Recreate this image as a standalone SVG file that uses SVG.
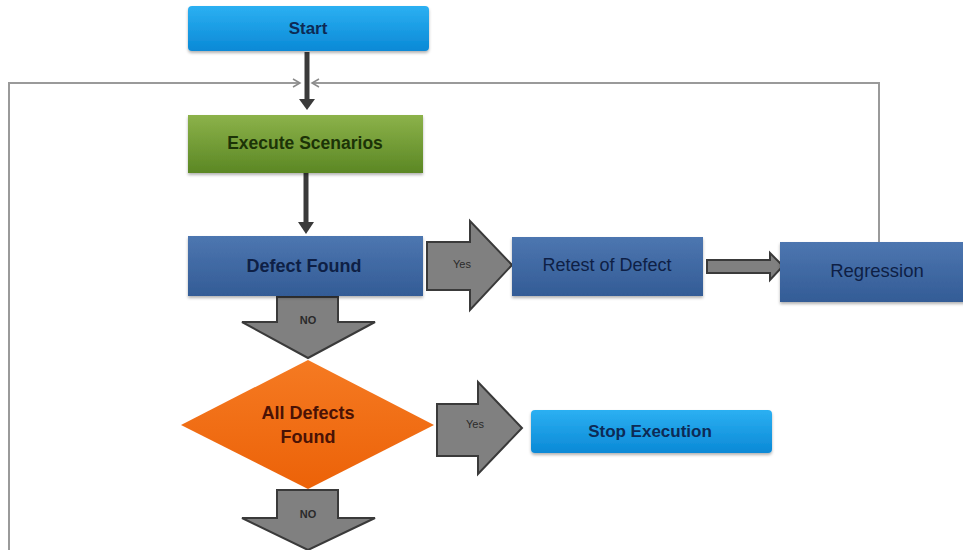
<svg xmlns="http://www.w3.org/2000/svg" width="963" height="550" viewBox="0 0 963 550">
<defs>
<linearGradient id="gBlue" x1="0" y1="0" x2="0" y2="1"><stop offset="0" stop-color="#2cb0f2"/><stop offset="1" stop-color="#0a89d6"/></linearGradient>
<linearGradient id="gGreen" x1="0" y1="0" x2="0" y2="1"><stop offset="0" stop-color="#8cb24a"/><stop offset="1" stop-color="#5b8724"/></linearGradient>
<linearGradient id="gSteel" x1="0" y1="0" x2="0" y2="1"><stop offset="0" stop-color="#4d76b0"/><stop offset="1" stop-color="#335c96"/></linearGradient>
<linearGradient id="gOrange" x1="0" y1="0" x2="0" y2="1"><stop offset="0" stop-color="#f57a22"/><stop offset="1" stop-color="#ec6208"/></linearGradient>
<filter id="sh" x="-10%" y="-10%" width="120%" height="140%"><feDropShadow dx="0" dy="2" stdDeviation="1.5" flood-color="#000" flood-opacity="0.3"/></filter>
</defs>
<style>
.t{font-family:"Liberation Sans",Arial,sans-serif;text-anchor:middle;dominant-baseline:central}
.b{font-weight:bold}
.blk{fill:#808080;stroke:#3a3a3a;stroke-width:2;stroke-linejoin:miter}
.lbl{font-family:"Liberation Sans",Arial,sans-serif;font-size:11px;fill:#2a2a2a;text-anchor:middle;dominant-baseline:central}
.fb{fill:none;stroke:#9a9a9a;stroke-width:2}
.dark{stroke:#3a3a3a;stroke-width:5;fill:none}
</style>
<rect width="963" height="550" fill="#fff"/>
<g id="connectors">
<polyline class="fb" points="9,550 9,83 299,83"/>
<polyline class="fb" points="879,242 879,83 313,83"/>
<path d="M293,79 L300,83 L293,87" fill="none" stroke="#8a8a8a" stroke-width="1.5"/>
<path d="M319,79 L312,83 L319,87" fill="none" stroke="#8a8a8a" stroke-width="1.5"/>
<line class="dark" x1="307" y1="52" x2="307" y2="100"/>
<polygon points="299,99 315,99 307,110" fill="#3a3a3a"/>
<line class="dark" x1="306" y1="173" x2="306" y2="223"/>
<polygon points="298,222 314,222 306,234" fill="#3a3a3a"/>
<g id="yes1"><polygon class="blk" points="427,242 470,242 470,221 512,265 470,310 470,290 427,290"/><text class="lbl" x="462" y="264">Yes</text></g>
<g id="no1"><polygon class="blk" points="277,297 338,297 338,322 375,322 308,358 242,322 277,322"/><text class="lbl b" x="308" y="320">NO</text></g>
<g id="yes2"><polygon class="blk" points="437,404 478,404 478,382 522,428 478,474 478,456 437,456"/><text class="lbl" x="475" y="424">Yes</text></g>
<g id="no2"><polygon class="blk" points="277,490 338,490 338,518 375,518 308,550 242,518 277,518"/><text class="lbl b" x="308" y="514">NO</text></g>
<polygon class="blk" points="707,260 770,260 770,253 783,266 770,280 770,273 707,273"/>
</g>
<g id="start"><rect x="188" y="6" width="241" height="45" rx="4" fill="url(#gBlue)" filter="url(#sh)"/><text class="t b" x="308" y="28" font-size="17" fill="#0d2a55">Start</text></g>
<g id="execute"><rect x="188" y="115" width="235" height="58" fill="url(#gGreen)" filter="url(#sh)"/><text class="t b" x="305" y="143" font-size="17.5" fill="#1c3307">Execute Scenarios</text></g>
<g id="defect"><rect x="188" y="236" width="235" height="60" fill="url(#gSteel)" filter="url(#sh)"/><text class="t b" x="304" y="266" font-size="18" fill="#0e1f45">Defect Found</text></g>
<g id="retest"><rect x="512" y="237" width="191" height="59" fill="url(#gSteel)" filter="url(#sh)"/><text class="t" x="607" y="265" font-size="18" fill="#0e1f45">Retest of Defect</text></g>
<g id="regression"><rect x="780" y="242" width="190" height="60" fill="url(#gSteel)" filter="url(#sh)"/><text class="t" x="877" y="270" font-size="18.5" fill="#0e1f45">Regression</text></g>
<g id="allfound"><polygon points="308,360 434,425 308,489 181,425" fill="url(#gOrange)"/><text class="t b" x="308" y="413" font-size="18" fill="#4a1205">All Defects</text><text class="t b" x="308" y="437" font-size="18" fill="#4a1205">Found</text></g>
<g id="stop"><rect x="531" y="410" width="241" height="43" rx="4" fill="url(#gBlue)" filter="url(#sh)"/><text class="t b" x="650" y="431" font-size="17" fill="#0d2a55">Stop Execution</text></g>
</svg>
